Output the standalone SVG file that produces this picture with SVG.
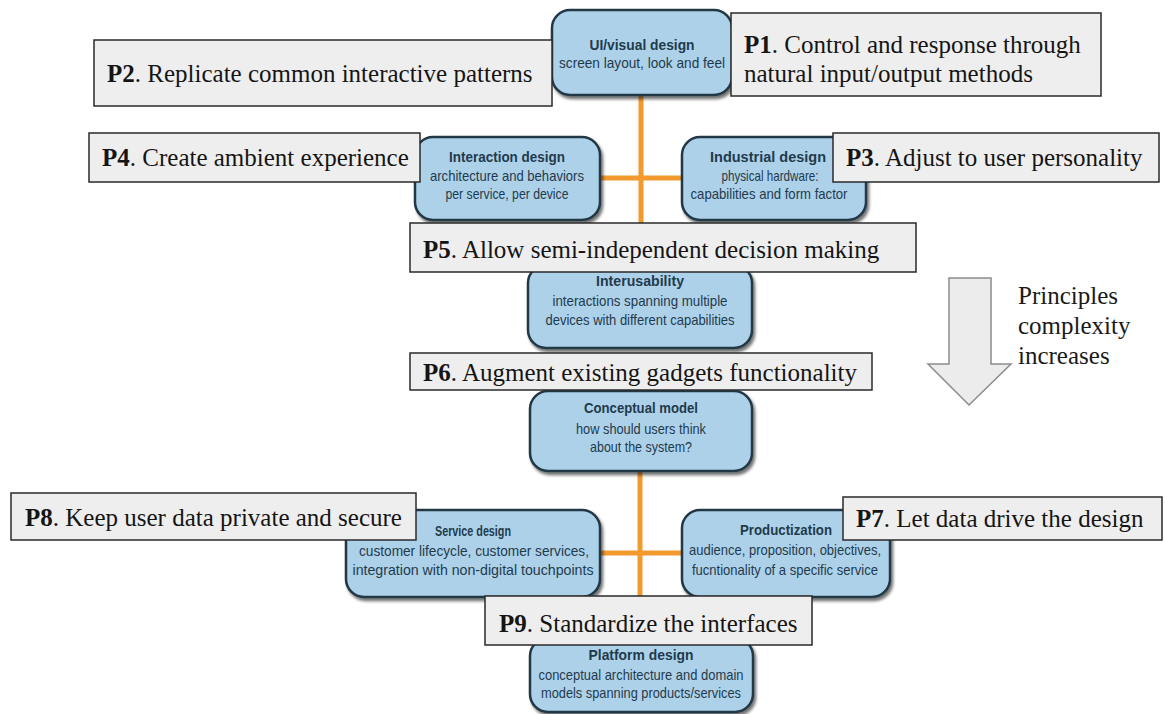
<svg xmlns="http://www.w3.org/2000/svg" width="1165" height="714" viewBox="0 0 1165 714">
<defs>
<filter id="sh" x="-10%" y="-10%" width="125%" height="130%">
<feDropShadow dx="2" dy="3" stdDeviation="1.8" flood-color="#000" flood-opacity="0.55"/>
</filter>
<style>
.node rect{fill:#aed1ea;stroke:#223845;stroke-width:2.5;filter:url(#sh)}
.node text{font-family:"Liberation Sans",Arial,sans-serif;fill:#1e3b4c;text-anchor:middle}
.node .t{font-weight:bold;font-size:15px}
.node .s{font-size:14.5px}
.pb rect{fill:#eeeeee;stroke:#2a2a2a;stroke-width:1.5}
.pb text{font-family:"Liberation Serif","Times New Roman",serif;font-size:25px;fill:#151515}
.pb tspan.b{font-weight:bold}
.con line{stroke:#f29a2e;stroke-width:5}
</style>
</defs>
<rect width="1165" height="714" fill="#ffffff"/>

<g id="connectors" class="con">
<line x1="641" y1="95" x2="641" y2="223"/>
<line x1="600" y1="178" x2="682" y2="178"/>
<line x1="640" y1="471" x2="640" y2="597"/>
<line x1="600" y1="553" x2="682" y2="553"/>
</g>

<g id="node-ui" class="node">
<rect x="552" y="10" width="180" height="85" rx="18"/>
<text class="t" x="642" y="50" textLength="105" lengthAdjust="spacingAndGlyphs">UI/visual design</text>
<text class="s" x="642" y="68" textLength="166" lengthAdjust="spacingAndGlyphs">screen layout, look and feel</text>
</g>
<g id="node-interaction" class="node">
<rect x="415" y="137" width="185" height="83" rx="18"/>
<text class="t" x="507" y="162" textLength="116" lengthAdjust="spacingAndGlyphs">Interaction design</text>
<text class="s" x="507" y="181" textLength="154" lengthAdjust="spacingAndGlyphs">architecture and behaviors</text>
<text class="s" x="507" y="199" textLength="123" lengthAdjust="spacingAndGlyphs">per service, per device</text>
</g>
<g id="node-industrial" class="node">
<rect x="682" y="137" width="184" height="83" rx="18"/>
<text class="t" x="768" y="162" textLength="116" lengthAdjust="spacingAndGlyphs">Industrial design</text>
<text class="s" x="770" y="181" textLength="97" lengthAdjust="spacingAndGlyphs">physical hardware:</text>
<text class="s" x="769" y="199" textLength="157" lengthAdjust="spacingAndGlyphs">capabilities and form factor</text>
</g>
<g id="node-interusability" class="node">
<rect x="528" y="265" width="224" height="83" rx="18"/>
<text class="t" x="640" y="286" textLength="88" lengthAdjust="spacingAndGlyphs">Interusability</text>
<text class="s" x="640" y="306" textLength="175" lengthAdjust="spacingAndGlyphs">interactions spanning multiple</text>
<text class="s" x="640" y="325" textLength="189" lengthAdjust="spacingAndGlyphs">devices with different capabilities</text>
</g>
<g id="node-conceptual" class="node">
<rect x="530" y="391" width="222" height="80" rx="18"/>
<text class="t" x="641" y="413" textLength="114" lengthAdjust="spacingAndGlyphs">Conceptual model</text>
<text class="s" x="641" y="434" textLength="130" lengthAdjust="spacingAndGlyphs">how should users think</text>
<text class="s" x="641" y="452" textLength="102" lengthAdjust="spacingAndGlyphs">about the system?</text>
</g>
<g id="node-service" class="node">
<rect x="346" y="510" width="254" height="87" rx="18"/>
<text class="t" x="473" y="536" textLength="76" lengthAdjust="spacingAndGlyphs">Service design</text>
<text class="s" x="474" y="556" textLength="230" lengthAdjust="spacingAndGlyphs">customer lifecycle, customer services,</text>
<text class="s" x="473" y="575" textLength="241" lengthAdjust="spacingAndGlyphs">integration with non-digital touchpoints</text>
</g>
<g id="node-productization" class="node">
<rect x="682" y="510" width="208" height="87" rx="18"/>
<text class="t" x="786" y="535" textLength="92" lengthAdjust="spacingAndGlyphs">Productization</text>
<text class="s" x="785" y="555" textLength="192" lengthAdjust="spacingAndGlyphs">audience, proposition, objectives,</text>
<text class="s" x="785" y="575" textLength="186" lengthAdjust="spacingAndGlyphs">fucntionality of a specific service</text>
</g>
<g id="node-platform" class="node">
<rect x="530" y="638" width="223" height="74" rx="18"/>
<text class="t" x="641" y="660" textLength="105" lengthAdjust="spacingAndGlyphs">Platform design</text>
<text class="s" x="641" y="680" textLength="205" lengthAdjust="spacingAndGlyphs">conceptual architecture and domain</text>
<text class="s" x="641" y="698" textLength="200" lengthAdjust="spacingAndGlyphs">models spanning products/services</text>
</g>

<g id="p2" class="pb">
<rect x="94" y="40" width="458" height="66"/>
<text x="107" y="82"><tspan class="b">P2</tspan>. Replicate common interactive patterns</text>
</g>
<g id="p1" class="pb">
<rect x="731" y="13" width="370" height="83"/>
<text x="744" y="53"><tspan class="b">P1</tspan>. Control and response through</text>
<text x="744" y="82">natural input/output methods</text>
</g>
<g id="p4" class="pb">
<rect x="89" y="133" width="331" height="49"/>
<text x="102" y="166"><tspan class="b">P4</tspan>. Create ambient experience</text>
</g>
<g id="p3" class="pb">
<rect x="833" y="133" width="326" height="49"/>
<text x="846" y="166"><tspan class="b">P3</tspan>. Adjust to user personality</text>
</g>
<g id="p5" class="pb">
<rect x="410" y="223" width="506" height="49"/>
<text x="423" y="258"><tspan class="b">P5</tspan>. Allow semi-independent decision making</text>
</g>
<g id="p6" class="pb">
<rect x="410" y="353" width="462" height="37"/>
<text x="423" y="381"><tspan class="b">P6</tspan>. Augment existing gadgets functionality</text>
</g>
<g id="p8" class="pb">
<rect x="11" y="493" width="405" height="47"/>
<text x="25" y="526"><tspan class="b">P8</tspan>. Keep user data private and secure</text>
</g>
<g id="p7" class="pb">
<rect x="843" y="497" width="319" height="43"/>
<text x="856" y="527"><tspan class="b">P7</tspan>. Let data drive the design</text>
</g>
<g id="p9" class="pb">
<rect x="485" y="596" width="327" height="49"/>
<text x="499" y="632"><tspan class="b">P9</tspan>. Standardize the interfaces</text>
</g>

<g id="complexity-arrow">
<polygon points="949,278 991,278 991,364 1011,364 969,405 928,364 949,364" fill="#ececec" stroke="#8c8c8c" stroke-width="1.5"/>
<text font-family="Liberation Serif,'Times New Roman',serif" font-size="25" fill="#1a1a1a">
<tspan x="1018" y="304">Principles</tspan>
<tspan x="1018" y="334">complexity</tspan>
<tspan x="1018" y="364">increases</tspan>
</text>
</g>
</svg>
